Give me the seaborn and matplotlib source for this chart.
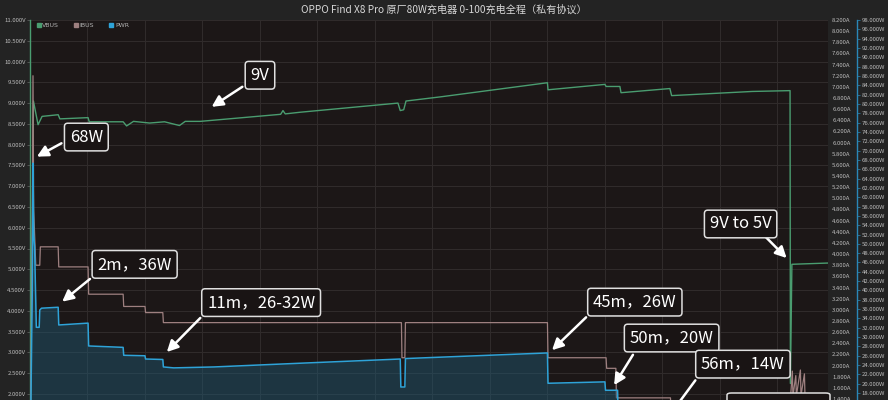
import numpy as np
import matplotlib
matplotlib.use('Agg')
import matplotlib.pyplot as plt
import seaborn as sns
from matplotlib.lines import Line2D
from matplotlib.patches import FancyBboxPatch

title = 'OPPO Find X8 Pro 原厂80W充电器 0-100充电全程（私有协议）'
series_names = ['VBUS', 'IBUS', 'PWR']

# time in minutes
vbus_t = [0.0, 0.3, 0.7, 1.05, 2.45, 2.6, 5.05, 5.15, 8.1, 8.4, 9.0, 10.4, 11.7, 13.0, 13.5, 14.8,
          21.8, 22.0, 22.2, 23.5, 32.0, 32.2, 32.5, 32.7, 35.7, 45.0, 45.05, 50.0, 50.1, 51.3, 51.4,
          55.65, 55.8, 62.8, 66.1, 66.13, 66.26, 69.4]
vbus_v = [0.0, 9.05, 8.48, 8.68, 8.72, 8.62, 8.65, 8.55, 8.55, 8.45, 8.56, 8.52, 8.55, 8.46, 8.56, 8.56,
          8.73, 8.82, 8.74, 8.78, 9.0, 8.82, 8.84, 9.05, 9.15, 9.49, 9.32, 9.45, 9.40, 9.40, 9.25,
          9.35, 9.18, 9.28, 9.30, 2.25, 5.12, 5.15]

ibus_t = [0.0, 0.2, 0.26, 0.32, 0.5, 0.85, 0.9, 2.45, 2.5, 5.05, 5.1, 8.1, 8.15, 10.0, 10.05, 11.55, 11.6,
          32.3, 32.35, 32.6, 32.65, 45.0, 45.05, 50.1, 50.15, 50.95, 51.0, 55.7, 55.75, 66.1, 66.15,
          66.3, 66.35, 66.6, 66.65, 67.0, 67.05, 67.35, 67.4, 67.8, 67.85, 69.4]
ibus_a = [0.0, 4.5, 7.2, 4.8, 3.8, 3.8, 4.13, 4.13, 3.77, 3.77, 3.28, 3.28, 3.06, 3.06, 2.95, 2.95, 2.77,
          2.77, 2.14, 2.14, 2.77, 2.77, 2.14, 2.14, 1.95, 1.95, 1.42, 1.42, 1.12, 1.12, 1.45,
          1.90, 1.45, 1.82, 1.46, 1.92, 1.46, 1.85, 1.44, 1.45, 0.95, 0.95]

pwr_t = [0.0, 0.2, 0.26, 0.32, 0.4, 0.48, 0.55, 0.8, 0.85, 1.0, 2.45, 2.5, 5.05, 5.1, 8.1, 8.15, 10.0,
         10.05, 11.55, 11.6, 12.5, 16.0, 23.5, 32.2, 32.25, 32.6, 32.65, 45.0, 45.05, 50.0, 50.05,
         51.1, 51.15, 55.7, 55.75, 66.1, 66.15, 69.4]
pwr_w = [0.0, 40.0, 67.3, 52.0, 49.3, 40.0, 32.1, 32.1, 35.8, 36.2, 36.4, 32.6, 33.0, 28.1, 27.8, 26.1, 26.0,
         25.3, 25.2, 23.6, 23.4, 23.6, 24.4, 25.3, 19.3, 19.3, 25.4, 26.6, 20.1, 20.4, 18.6,
         18.6, 13.3, 13.1, 10.4, 10.5, 7.4, 5.0]

# tick values that are visible in the screenshot (the chart is cut off at the bottom)
v_ticks = np.arange(2.0, 11.01, 0.5)
a_ticks = np.arange(1.4, 8.21, 0.2)
w_ticks = np.arange(18, 98.1, 2)

# callouts: label, axis, arrow tip (t, value), box centre (t, value)
ann_labels = ['9V', '68W', '2m，36W', '11m，26-32W', '45m，26W', '50m，20W', '56m，14W', '9V to 5V']
ann_axis = ['V', 'W', 'W', 'W', 'W', 'W', 'W', 'V']
ann_tip = [(15.8, 8.91), (0.6, 68.7), (2.8, 37.6), (11.9, 26.8), (45.4, 27.2), (50.8, 19.7), (55.4, 12.5), (65.8, 5.27)]
ann_box = [(20.0, 9.67), (4.9, 72.9), (9.1, 45.6), (20.1, 37.4), (52.6, 37.5), (55.8, 29.8), (62.0, 24.2), (61.8, 6.09)]
ann_relpos = [(0.5, 0.5), (0.0, 0.4), (0.0, 0.0), (0.0, 0.0), (0.0, 0.0), (0.1, 0.0), (0.0, 0.0), (0.78, 0.2)]

c_v, c_a, c_w = '#4a9d70', '#9e8080', '#2ea3d8'

sns.set_theme(style='dark')
plt.rcParams['font.family'] = ['Noto Sans CJK SC', 'DejaVu Sans']

fig = plt.figure(figsize=(8.88, 4), dpi=100, facecolor='#232323')
ax = fig.add_axes([30 / 888, (400 - 477) / 400, 798 / 888, 457 / 400])
ax.set_facecolor('#1c1717')
ax_a = ax.twinx()
ax_w = ax.twinx()

sns.lineplot(x=vbus_t, y=vbus_v, ax=ax, color=c_v, lw=1.0, estimator=None, sort=False)
sns.lineplot(x=ibus_t, y=ibus_a, ax=ax_a, color=c_a, lw=0.9, estimator=None, sort=False)
ax_w.fill_between(pwr_t, pwr_w, 0, color='#1f5a75', alpha=0.45, lw=0)
sns.lineplot(x=pwr_t, y=pwr_w, ax=ax_w, color=c_w, lw=1.1, estimator=None, sort=False)

ax.set_xlim(0, 69.4)
ax.set_ylim(0, 11)
ax_a.set_ylim(0, 8.2)
ax_w.set_ylim(0, 98)

ax.set_xticks(np.arange(0, 70, 5))
ax.set_yticks(v_ticks)
ax.set_yticklabels([f'{v:.3f}V' for v in v_ticks])
ax_a.set_yticks(a_ticks)
ax_a.set_yticklabels([f'{v:.3f}A' for v in a_ticks])
ax_w.set_yticks(w_ticks)
ax_w.set_yticklabels([f'{v:.3f}W' for v in w_ticks])

ax.grid(True, color='#312c2c', lw=0.7)
ax_a.grid(False)
ax_w.grid(False)
for a in (ax, ax_a, ax_w):
    a.set_xlabel('')
    a.set_ylabel('')
    for s in a.spines.values():
        s.set_visible(False)

ax.tick_params(axis='x', labelbottom=False, length=0)
ax.tick_params(axis='y', labelsize=4.3, labelcolor='#bdbdbd', color='#666666', length=2, width=0.5, pad=1.2, left=True)
ax_a.tick_params(axis='y', labelsize=4.3, labelcolor='#bdbdbd', length=0, pad=3)
ax_w.tick_params(axis='y', labelsize=4.3, labelcolor='#bdbdbd', color='#2a88b8', length=2, width=0.5, pad=1.2, right=True)
ax.spines['left'].set_visible(True)
ax.spines['left'].set_color(c_v)
ax.spines['left'].set_linewidth(1.0)
ax_w.spines['right'].set_visible(True)
ax_w.spines['right'].set_position(('outward', 29 * 0.72))
ax_w.spines['right'].set_color('#2a88b8')
ax_w.spines['right'].set_linewidth(1.0)

fig.text(0.5, 1 - 10 / 400, title, ha='center', va='center', fontsize=7.3, color='#d8d8d8')

handles = [Line2D([], [], marker='s', ls='none', color=c, markersize=2.2) for c in (c_v, c_a, c_w)]
fig.legend(handles, series_names, loc='upper left', bbox_to_anchor=(31 / 888, 1 - 17 / 400), ncol=3,
           frameon=False, labelcolor='#b0b0b0', handlelength=0.6, handletextpad=0.3,
           columnspacing=2.4, prop={'family': 'DejaVu Sans', 'size': 4.5})

for lab, axn, tip, box, rp in zip(ann_labels, ann_axis, ann_tip, ann_box, ann_relpos):
    tr = ax.transData if axn == 'V' else ax_w.transData
    arrowprops = dict(arrowstyle='-|>,head_length=0.55,head_width=0.28', color='white', lw=1.8,
                      relpos=rp, shrinkA=2, shrinkB=0)
    if lab == '9V to 5V':
        arrowprops['patchA'] = None
    ax_w.annotate(lab, xy=tip, xycoords=tr, xytext=box, textcoords=tr, ha='center', va='center',
                  fontsize=12, color='white', zorder=10, annotation_clip=False,
                  bbox=dict(boxstyle='round,pad=0.32,rounding_size=0.2', fc='#191414', ec='#e0e0e0', lw=1.1),
                  arrowprops=arrowprops)

# callout box that is cut off at the bottom of the screenshot
fig.patches.append(FancyBboxPatch((727 / 888, -0.05), 103 / 888, 0.0675, boxstyle='round,pad=0,rounding_size=0.005',
                                  transform=fig.transFigure, fc='#191414', ec='#e0e0e0', lw=1.1, zorder=10))

fig.savefig('out.png', dpi=100, facecolor=fig.get_facecolor())
